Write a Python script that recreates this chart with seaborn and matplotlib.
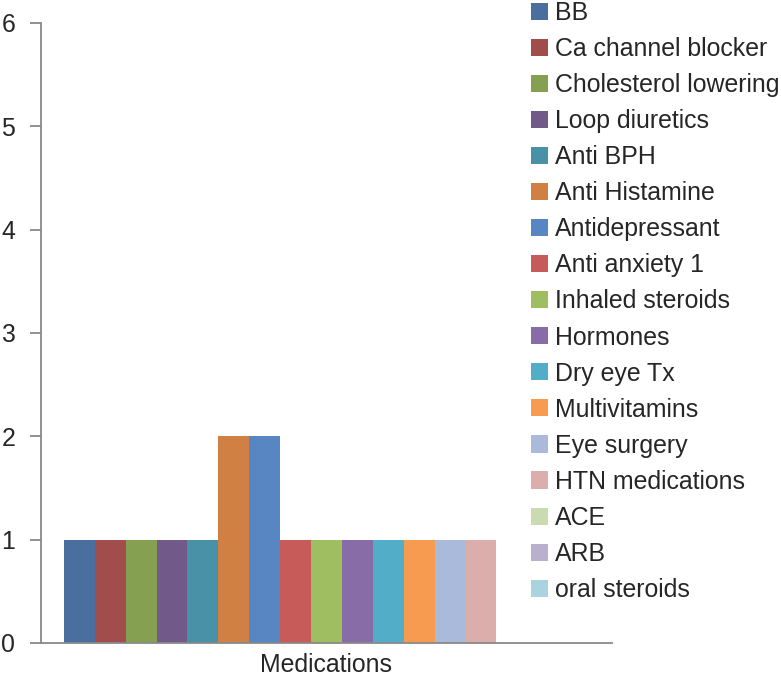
import matplotlib
matplotlib.use("Agg")
import matplotlib.pyplot as plt
import seaborn as sns
import pandas as pd

categories = ["Medications"]
series = ["BB", "Ca channel blocker", "Cholesterol lowering", "Loop diuretics",
          "Anti BPH", "Anti Histamine", "Antidepressant", "Anti anxiety 1",
          "Inhaled steroids", "Hormones", "Dry eye Tx", "Multivitamins",
          "Eye surgery", "HTN medications", "ACE", "ARB", "oral steroids"]
values = [1, 1, 1, 1, 1, 2, 2, 1, 1, 1, 1, 1, 1, 1, 0, 0, 0]
colors = ["#4A6E9E", "#A04D4B", "#84A050", "#715A8A", "#4891A7", "#D08043",
          "#5786C3", "#C75B59", "#9FBE62", "#876CA8", "#52AEC8", "#F79B51",
          "#AABADA", "#DBADAB", "#CBDBB0", "#B9B0CD", "#A9D3DF"]
yticks = [0, 1, 2, 3, 4, 5, 6]

df = pd.DataFrame({"category": categories * len(series),
                   "series": series,
                   "value": values})

sns.set_theme(style="white")
plt.rcParams["font.family"] = ["Liberation Sans", "DejaVu Sans"]

FS = 17.9
fig = plt.figure(figsize=(7.81, 6.76), dpi=100)
ax = fig.add_axes([41 / 781, 1 - 643 / 676, (612 - 41) / 781, (643 - 23) / 676])

sns.barplot(data=df, x="category", y="value", hue="series", hue_order=series,
            palette=colors, width=0.92, ax=ax, legend=True, linewidth=0,
            saturation=1)

ax.set_ylim(0, 6)
ax.set_yticks(yticks)
ax.set_xlim(-0.5, 0.5)
ax.set_xlabel("")
ax.set_ylabel("")
for s in ["top", "right"]:
    ax.spines[s].set_visible(False)
for s in ["left", "bottom"]:
    ax.spines[s].set_color("#898989")
    ax.spines[s].set_linewidth(1.3)
ax.tick_params(axis="y", left=True, length=8, width=1.3, color="#898989",
               labelsize=FS, labelcolor="#262626", pad=10.5)
ax.tick_params(axis="x", bottom=False, labelsize=FS, labelcolor="#262626", pad=1)

handles, labels = ax.get_legend_handles_labels()
ax.get_legend().remove()
leg = fig.legend(handles, labels, loc="upper left",
                 bbox_to_anchor=(531 / 781, 1 - 1 / 676),
                 frameon=False, fontsize=FS, handlelength=0.68,
                 handleheight=0.68, handletextpad=0.3, labelspacing=0.485,
                 borderpad=0, borderaxespad=0)
for t in leg.get_texts():
    t.set_color("#262626")

fig.savefig("out.png", dpi=100)
